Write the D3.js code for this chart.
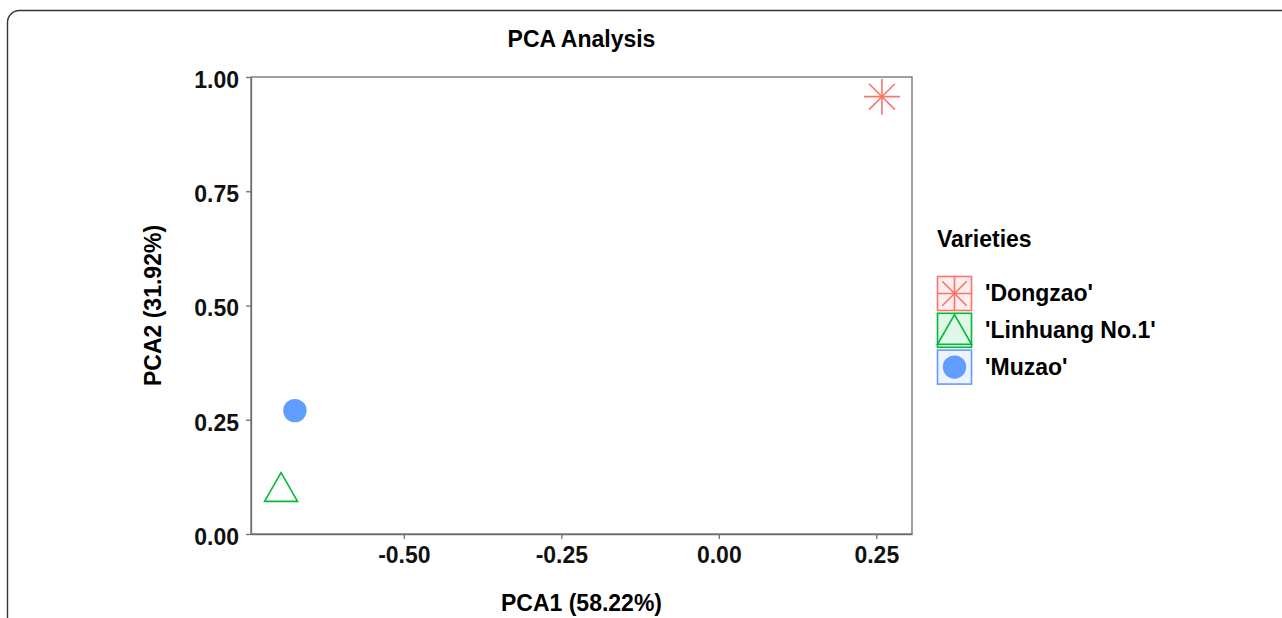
<!DOCTYPE html>
<html>

<head>
  <meta charset="utf-8">
  <title>PCA Analysis</title>
  <style>
    body,
    html {
      margin: 0;
      padding: 0;
      background: #fff;
    }

    svg text {
      font-family: "Liberation Sans", Arial, sans-serif;
      font-weight: bold;
    }
  </style>
</head>

<body>

  <svg id="svg" width="1282" height="618"></svg>

  <script src="https://d3js.org/d3.v7.min.js"></script>

  <script>
    // values
    const varieties = ["'Dongzao'", "'Linhuang No.1'", "'Muzao'"]
    const pca1 = [0.259, -0.695, -0.673]
    const pca2 = [0.957, 0.101, 0.270]
    const colors = ["#F8766D", "#00BA38", "#619CFF"]
    const shapes = ["asterisk", "triangle", "circle"]
    const xTicks = [-0.50, -0.25, 0.00, 0.25]
    const yTicks = [0.00, 0.25, 0.50, 0.75, 1.00]

    const panelLeft = 251, panelRight = 912, panelTop = 77, panelBottom = 534

    const svg = d3.select("#svg")

    // outer frame of the figure
    svg.append("rect")
      .attr("x", 7.5).attr("y", 10.5)
      .attr("width", 1300).attr("height", 640)
      .attr("rx", 12)
      .attr("fill", "none")
      .attr("stroke", "#333")
      .attr("stroke-width", 1.4)

    // ggplot style 5% expansion on x
    const xExt = d3.extent(pca1)
    const xPad = (xExt[1] - xExt[0]) * 0.05
    const xScale = d3.scaleLinear()
      .domain([xExt[0] - xPad, xExt[1] + xPad])
      .range([panelLeft, panelRight])

    const yScale = d3.scaleLinear()
      .domain([0, 1])
      .range([panelBottom, panelTop])

    // panel border
    svg.append("rect")
      .attr("x", panelLeft).attr("y", panelTop)
      .attr("width", panelRight - panelLeft).attr("height", panelBottom - panelTop)
      .attr("fill", "none")
      .attr("stroke", "#6e6e6e")
      .attr("stroke-width", 1.3)

    const fmt = d => d3.format(".2f")(d).replace("\u2212", "-")

    const xAxis = d3.axisBottom(xScale)
      .tickValues(xTicks)
      .tickFormat(fmt)
      .tickSize(5)
      .tickPadding(8)
      .tickSizeOuter(0)
    const gx = svg.append("g")
      .attr("transform", `translate(0, ${panelBottom})`)
      .call(xAxis)

    const yAxis = d3.axisLeft(yScale)
      .tickValues(yTicks)
      .tickFormat(fmt)
      .tickSize(5)
      .tickPadding(7)
      .tickSizeOuter(0)
    const gy = svg.append("g")
      .attr("transform", `translate(${panelLeft}, 0)`)
      .call(yAxis)
    gy.selectAll(".tick text").attr("dy", "0.45em")

    for (const g of [gx, gy]) {
      g.select(".domain").attr("stroke", "#6e6e6e").attr("stroke-width", 1.3)
      g.selectAll(".tick line").attr("stroke", "#6e6e6e").attr("stroke-width", 1.3)
      g.selectAll(".tick text")
        .attr("font-size", 23)
        .attr("fill", "#111")
        .style("font-family", "'Liberation Sans', Arial, sans-serif")
        .style("font-weight", "bold")
    }

    // shapes, s = half size
    function shapePath(shape, s) {
      const p = d3.path()
      if (shape === "asterisk") {
        const d = s * 0.72
        p.moveTo(-s, 0); p.lineTo(s, 0)
        p.moveTo(0, -s); p.lineTo(0, s)
        p.moveTo(-d, -d); p.lineTo(d, d)
        p.moveTo(-d, d); p.lineTo(d, -d)
      } else if (shape === "triangle") {
        p.moveTo(0, -s * 0.92)
        p.lineTo(s, s * 0.82)
        p.lineTo(-s, s * 0.82)
        p.closePath()
      }
      return p.toString()
    }

    function drawShape(g, shape, color, s) {
      if (shape === "circle") {
        g.append("circle").attr("r", s).attr("fill", color)
      } else {
        g.append("path")
          .attr("d", shapePath(shape, s))
          .attr("fill", "none")
          .attr("stroke", color)
          .attr("stroke-width", 1.6)
      }
    }

    const sizes = { asterisk: 18, triangle: 16.5, circle: 11.7 }

    varieties.forEach((v, i) => {
      const g = svg.append("g")
        .attr("transform", `translate(${xScale(pca1[i])}, ${yScale(pca2[i])})`)
      drawShape(g, shapes[i], colors[i], sizes[shapes[i]])
    })

    // title and axis labels
    svg.append("text")
      .attr("x", (panelLeft + panelRight) / 2).attr("y", 47)
      .attr("text-anchor", "middle")
      .attr("font-size", 23)
      .text("PCA Analysis")

    svg.append("text")
      .attr("x", (panelLeft + panelRight) / 2).attr("y", 611)
      .attr("text-anchor", "middle")
      .attr("font-size", 23)
      .text("PCA1 (58.22%)")

    svg.append("text")
      .attr("transform", `translate(161, ${(panelTop + panelBottom) / 2}) rotate(-90)`)
      .attr("text-anchor", "middle")
      .attr("font-size", 23)
      .text("PCA2 (31.92%)")

    // legend
    const legend = svg.append("g").attr("transform", "translate(937, 0)")
    legend.append("text")
      .attr("x", 0).attr("y", 247)
      .attr("font-size", 23)
      .text("Varieties")

    const keySize = 34
    const keyStep = 36.8
    varieties.forEach((v, i) => {
      const y0 = 276 + i * keyStep
      const key = legend.append("g").attr("transform", `translate(0, ${y0})`)
      key.append("rect")
        .attr("x", 0.5).attr("y", 0.5)
        .attr("width", keySize).attr("height", keySize)
        .attr("fill", colors[i])
        .attr("fill-opacity", 0.12)
        .attr("stroke", colors[i])
        .attr("stroke-width", 1.6)
      const inner = key.append("g").attr("transform", `translate(${keySize / 2 + 0.5}, ${keySize / 2 + 0.5})`)
      drawShape(inner, shapes[i], colors[i], shapes[i] === "circle" ? 11.7 : keySize / 2)
      legend.append("text")
        .attr("x", 48).attr("y", y0 + keySize / 2 + 8)
        .attr("font-size", 23)
        .text(v)
    })
  </script>

</body>

</html>
